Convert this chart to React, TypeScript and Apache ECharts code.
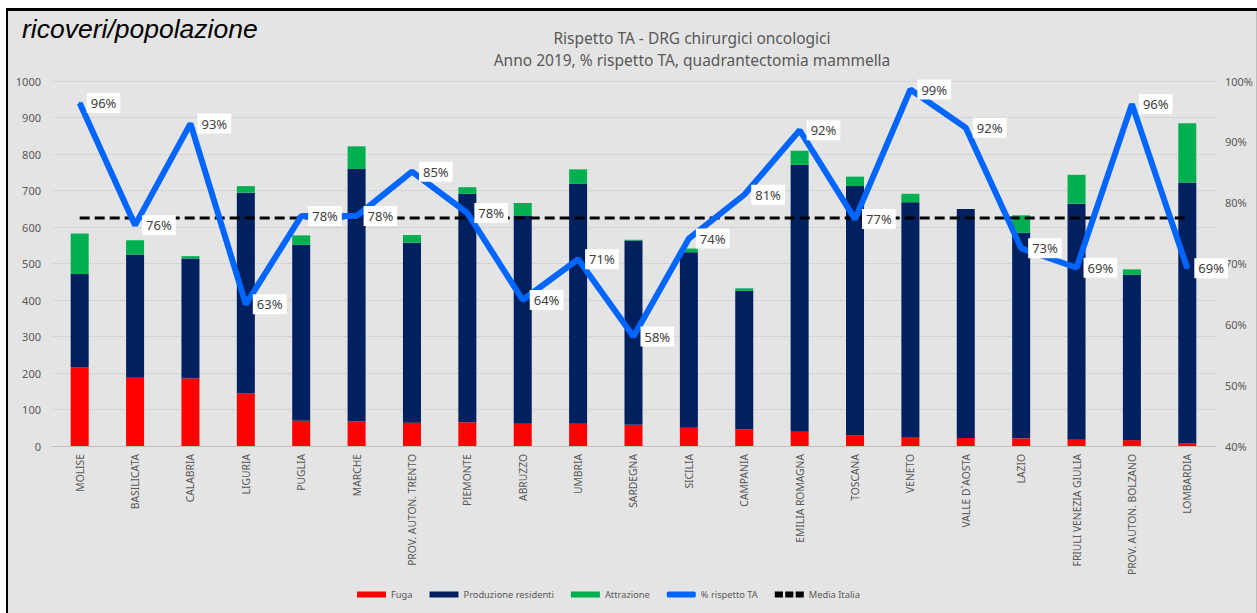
import React, { useEffect, useRef } from "react";
import * as echarts from "echarts";

const categories = [
  "MOLISE", "BASILICATA", "CALABRIA", "LIGURIA", "PUGLIA", "MARCHE",
  "PROV. AUTON. TRENTO", "PIEMONTE", "ABRUZZO", "UMBRIA", "SARDEGNA",
  "SICILIA", "CAMPANIA", "EMILIA ROMAGNA", "TOSCANA", "VENETO",
  "VALLE D`AOSTA", "LAZIO", "FRIULI VENEZIA GIULIA", "PROV. AUTON. BOLZANO", "LOMBARDIA",
];
const fuga = [215, 187, 185, 144, 69, 67, 64, 65, 61, 61, 58, 50, 46, 39, 30, 25, 22, 21, 17, 16, 7];
const produzioneResidenti = [256, 338, 329, 550, 482, 692, 493, 626, 569, 657, 505, 481, 379, 731, 682, 643, 627, 563, 647, 453, 715];
const attrazione = [111, 39, 6, 18, 26, 62, 21, 18, 36, 40, 2, 10, 7, 39, 26, 23, 0, 48, 79, 15, 162];
const rispettoTA = [96.4, 76.3, 93.0, 63.3, 77.8, 77.8, 85.1, 78.3, 64.0, 70.7, 58.0, 74.1, 81.3, 91.9, 77.3, 98.6, 92.3, 72.5, 69.3, 96.2, 69.2];
const mediaItaliaValue = 77.5;
const mediaItalia = categories.map(() => mediaItaliaValue);
const leftTicks = { min: 0, max: 1000, interval: 100 };
const rightTicks = { min: 40, max: 100, interval: 10 };

const FONT = "'Noto Sans', 'Liberation Sans', sans-serif";

export default function App() {
  const ref = useRef<HTMLDivElement>(null);
  useEffect(() => {
    if (!ref.current) return;
    const chart = echarts.init(ref.current, undefined, { renderer: "svg" });
    chart.setOption({
      animation: false,
      backgroundColor: "#e4e4e4",
      textStyle: { fontFamily: FONT },
      title: {
        text: "ricoveri/popolazione",
        left: 14,
        top: 4,
        padding: 0,
        textStyle: {
          fontFamily: "'Liberation Sans', Arial, sans-serif",
          fontStyle: "italic",
          fontWeight: "normal",
          fontSize: 26.5,
          color: "#000",
        },
      },
      graphic: [
        {
          type: "text",
          x: 684,
          y: 27,
          style: {
            text: "Rispetto TA - DRG chirurgici oncologici",
            fill: "#595959",
            font: "15.5px " + FONT,
            textAlign: "center",
            textVerticalAlign: "middle",
          },
        },
        {
          type: "text",
          x: 684,
          y: 49,
          style: {
            text: "Anno 2019, % rispetto TA, quadrantectomia mammella",
            fill: "#595959",
            font: "15.5px " + FONT,
            textAlign: "center",
            textVerticalAlign: "middle",
          },
        },
      ],
      legend: {
        left: 344,
        top: 574,
        itemWidth: 29,
        itemHeight: 6,
        itemGap: 17,
        textStyle: { color: "#595959", fontSize: 9.3, fontFamily: FONT },
        data: [
          { name: "Fuga", icon: "rect" },
          { name: "Produzione residenti", icon: "rect" },
          { name: "Attrazione", icon: "rect" },
          { name: "% rispetto TA", icon: "roundRect" },
          { name: "Media Italia", icon: "path://M0,0h7v5h-7z M9,0h7v5h-7z M18,0h7v5h-7z" },
        ],
      },
      grid: { left: 44, top: 70, right: 33, bottom: 167, containLabel: false },
      xAxis: {
        type: "category",
        data: categories,
        axisLine: { show: true, lineStyle: { color: "#bfbfbf", width: 1 } },
        axisTick: { show: false },
        axisLabel: {
          rotate: 90,
          interval: 0,
          fontSize: 10.3,
          color: "#595959",
          margin: 8,
          fontFamily: FONT,
        },
      },
      yAxis: [
        {
          type: "value",
          ...leftTicks,
          axisLine: { show: false },
          axisTick: { show: false },
          axisLabel: {
            fontSize: 11,
            color: "#595959",
            margin: 11,
            fontFamily: FONT,
            formatter: (v: number) => String(v),
          },
          splitLine: { show: true, lineStyle: { type: "dotted", color: "#c4c4c4", width: 1 } },
        },
        {
          type: "value",
          ...rightTicks,
          position: "right",
          axisLine: { show: false },
          axisTick: { show: false },
          axisLabel: {
            fontSize: 11,
            color: "#595959",
            margin: 10,
            formatter: "{value}%",
            fontFamily: FONT,
          },
          splitLine: { show: false },
        },
      ],
      series: [
        {
          name: "Fuga",
          type: "bar",
          stack: "tot",
          barWidth: 18,
          data: fuga,
          itemStyle: { color: "#ff0000" },
          z: 2,
        },
        {
          name: "Produzione residenti",
          type: "bar",
          stack: "tot",
          barWidth: 18,
          data: produzioneResidenti,
          itemStyle: { color: "#002060" },
          z: 2,
        },
        {
          name: "Attrazione",
          type: "bar",
          stack: "tot",
          barWidth: 18,
          data: attrazione,
          itemStyle: { color: "#00b050" },
          z: 2,
        },
        {
          name: "Media Italia",
          type: "line",
          yAxisIndex: 1,
          data: mediaItalia,
          symbol: "none",
          lineStyle: { color: "#000", width: 3, type: [10, 5] },
          itemStyle: { color: "#000" },
          z: 3,
        },
        {
          name: "% rispetto TA",
          type: "line",
          yAxisIndex: 1,
          data: rispettoTA,
          symbol: "circle",
          symbolSize: 2,
          showSymbol: true,
          lineStyle: { color: "#0066ff", width: 6 },
          itemStyle: { color: "#0066ff" },
          z: 4,
          label: {
            show: true,
            position: "right",
            distance: 6,
            formatter: (p: any) => Math.round(p.value) + "%",
            backgroundColor: "#ffffff",
            padding: [4, 4, 3, 4],
            color: "#404040",
            fontSize: 13,
            fontFamily: FONT,
          },
        },
      ],
    });
    return () => chart.dispose();
  }, []);

  return (
    <div style={{ position: "fixed", left: 0, top: 0, width: 1257, height: 613, background: "#fff", overflow: "hidden" }}>
      <div
        style={{
          position: "absolute",
          left: 6,
          top: 8,
          width: 1251,
          height: 605,
          boxSizing: "border-box",
          borderLeft: "2px solid #000",
          borderTop: "3px solid #000",
          background: "#e4e4e4",
        }}
      />
      <div ref={ref} style={{ position: "absolute", left: 8, top: 11, width: 1248, height: 602 }} />
      <div style={{ position: "absolute", left: 1256, top: 11, width: 1, height: 602, background: "#bdbdbd" }} />
    </div>
  );
}
